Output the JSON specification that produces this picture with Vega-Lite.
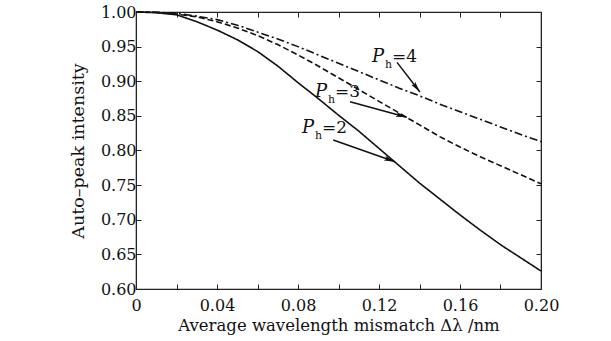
{
  "$schema": "https://vega.github.io/schema/vega-lite/v6.json",
  "width": 405,
  "height": 277,
  "autosize": {"type": "none"},
  "padding": {"left": 136, "top": 12, "right": 70, "bottom": 52},
  "background": "white",
  "config": {
    "view": {"stroke": "#222", "strokeWidth": 1.2},
    "font": "DejaVu Serif",
    "axis": {
      "grid": false,
      "domainColor": "#222",
      "tickColor": "#222",
      "tickSize": -5,
      "labelColor": "#111",
      "titleColor": "#111",
      "titleFontWeight": "normal"
    }
  },
  "datasets": {
    "curves": [
      {"x": 0.00, "y": 1.000, "ph": "2"}, {"x": 0.01, "y": 0.999, "ph": "2"}, {"x": 0.02, "y": 0.996, "ph": "2"},
      {"x": 0.03, "y": 0.986, "ph": "2"}, {"x": 0.04, "y": 0.974, "ph": "2"}, {"x": 0.05, "y": 0.960, "ph": "2"},
      {"x": 0.06, "y": 0.943, "ph": "2"}, {"x": 0.07, "y": 0.922, "ph": "2"}, {"x": 0.08, "y": 0.898, "ph": "2"},
      {"x": 0.09, "y": 0.875, "ph": "2"}, {"x": 0.10, "y": 0.851, "ph": "2"}, {"x": 0.11, "y": 0.828, "ph": "2"},
      {"x": 0.12, "y": 0.803, "ph": "2"}, {"x": 0.13, "y": 0.778, "ph": "2"}, {"x": 0.14, "y": 0.753, "ph": "2"},
      {"x": 0.15, "y": 0.730, "ph": "2"}, {"x": 0.16, "y": 0.707, "ph": "2"}, {"x": 0.17, "y": 0.685, "ph": "2"},
      {"x": 0.18, "y": 0.664, "ph": "2"}, {"x": 0.19, "y": 0.645, "ph": "2"}, {"x": 0.20, "y": 0.626, "ph": "2"},
      {"x": 0.00, "y": 1.000, "ph": "3"}, {"x": 0.01, "y": 0.9995, "ph": "3"}, {"x": 0.02, "y": 0.997, "ph": "3"},
      {"x": 0.03, "y": 0.993, "ph": "3"}, {"x": 0.04, "y": 0.986, "ph": "3"}, {"x": 0.05, "y": 0.977, "ph": "3"},
      {"x": 0.06, "y": 0.966, "ph": "3"}, {"x": 0.07, "y": 0.953, "ph": "3"}, {"x": 0.08, "y": 0.938, "ph": "3"},
      {"x": 0.09, "y": 0.922, "ph": "3"}, {"x": 0.10, "y": 0.905, "ph": "3"}, {"x": 0.11, "y": 0.888, "ph": "3"},
      {"x": 0.12, "y": 0.871, "ph": "3"}, {"x": 0.13, "y": 0.854, "ph": "3"}, {"x": 0.14, "y": 0.837, "ph": "3"},
      {"x": 0.15, "y": 0.820, "ph": "3"}, {"x": 0.16, "y": 0.805, "ph": "3"}, {"x": 0.17, "y": 0.791, "ph": "3"},
      {"x": 0.18, "y": 0.778, "ph": "3"}, {"x": 0.19, "y": 0.765, "ph": "3"}, {"x": 0.20, "y": 0.752, "ph": "3"},
      {"x": 0.00, "y": 1.000, "ph": "4"}, {"x": 0.01, "y": 0.9997, "ph": "4"}, {"x": 0.02, "y": 0.998, "ph": "4"},
      {"x": 0.03, "y": 0.994, "ph": "4"}, {"x": 0.04, "y": 0.989, "ph": "4"}, {"x": 0.05, "y": 0.981, "ph": "4"},
      {"x": 0.06, "y": 0.971, "ph": "4"}, {"x": 0.07, "y": 0.961, "ph": "4"}, {"x": 0.08, "y": 0.950, "ph": "4"},
      {"x": 0.09, "y": 0.938, "ph": "4"}, {"x": 0.10, "y": 0.926, "ph": "4"}, {"x": 0.11, "y": 0.914, "ph": "4"},
      {"x": 0.12, "y": 0.902, "ph": "4"}, {"x": 0.13, "y": 0.890, "ph": "4"}, {"x": 0.14, "y": 0.879, "ph": "4"},
      {"x": 0.15, "y": 0.867, "ph": "4"}, {"x": 0.16, "y": 0.856, "ph": "4"}, {"x": 0.17, "y": 0.845, "ph": "4"},
      {"x": 0.18, "y": 0.834, "ph": "4"}, {"x": 0.19, "y": 0.823, "ph": "4"}, {"x": 0.20, "y": 0.813, "ph": "4"}
    ],
    "labels": [
      {"x": 0.1165, "y": 0.9278, "n": "=4"},
      {"x": 0.0884, "y": 0.8773, "n": "=3"},
      {"x": 0.0820, "y": 0.8253, "n": "=2"}
    ],
    "arrows": [
      {"x": 0.1289, "y": 0.9272, "x2": 0.1402, "y2": 0.8845},
      {"x": 0.1057, "y": 0.8704, "x2": 0.1337, "y2": 0.8479},
      {"x": 0.0974, "y": 0.8151, "x2": 0.1279, "y2": 0.7837}
    ]
  },
  "resolve": {"axis": {"x": "independent", "y": "independent"}},
  "layer": [
    {
      "data": {"name": "curves"},
      "mark": {"type": "line", "color": "#111", "strokeWidth": 1.6},
      "encoding": {
        "x": {
          "field": "x", "type": "quantitative",
          "scale": {"domain": [0, 0.2], "nice": false, "zero": false},
          "axis": {
            "orient": "bottom",
            "values": [0, 0.02, 0.04, 0.06, 0.08, 0.1, 0.12, 0.14, 0.16, 0.18, 0.2],
            "labelExpr": "round(datum.value*100) % 4 == 0 ? (datum.value == 0 ? '0' : format(datum.value, '.2f')) : ''",
            "labelFont": "DejaVu Serif",
            "titleFont": "DejaVu Serif",
            "labelFontSize": 16,
            "titleFontSize": 16.5,
            "labelPadding": 13,
            "labelFlush": false,
            "labelOverlap": false,
            "title": "Average wavelength mismatch Δλ /nm",
            "titlePadding": 4
          }
        },
        "y": {
          "field": "y", "type": "quantitative",
          "scale": {"domain": [0.6, 1.0], "nice": false, "zero": false},
          "axis": {
            "orient": "left",
            "values": [0.6, 0.65, 0.7, 0.75, 0.8, 0.85, 0.9, 0.95, 1.0],
            "format": ".2f",
            "labelFont": "DejaVu Serif",
            "titleFont": "DejaVu Serif",
            "labelFontSize": 16,
            "titleFontSize": 17.5,
            "labelPadding": 5,
            "labelFlush": false,
            "labelOverlap": false,
            "title": "Auto–peak intensity",
            "titlePadding": 13
          }
        },
        "strokeDash": {
          "field": "ph", "type": "nominal",
          "scale": {"domain": ["2", "3", "4"], "range": [[1, 0], [6, 3], [8, 3, 2, 3]]},
          "legend": null
        }
      }
    },
    {
      "data": {"name": "curves"},
      "mark": {"type": "point", "opacity": 0},
      "encoding": {
        "x": {
          "field": "x", "type": "quantitative",
          "axis": {
            "orient": "top", "labels": false, "title": null,
            "values": [0, 0.02, 0.04, 0.06, 0.08, 0.1, 0.12, 0.14, 0.16, 0.18, 0.2]
          }
        },
        "y": {
          "field": "y", "type": "quantitative",
          "axis": {
            "orient": "right", "labels": false, "title": null,
            "values": [0.6, 0.65, 0.7, 0.75, 0.8, 0.85, 0.9, 0.95, 1.0]
          }
        }
      }
    },
    {
      "data": {"name": "arrows"},
      "mark": {"type": "rule", "color": "#111", "strokeWidth": 1.5},
      "encoding": {
        "x": {"field": "x", "type": "quantitative", "axis": null},
        "y": {"field": "y", "type": "quantitative", "axis": null},
        "x2": {"field": "x2"},
        "y2": {"field": "y2"}
      }
    },
    {
      "data": {"name": "arrows"},
      "transform": [
        {"calculate": "atan2((datum.x2 - datum.x) * 2025, (datum.y2 - datum.y) * 692.5) * 180 / PI", "as": "ang"}
      ],
      "mark": {
        "type": "point", "filled": true, "color": "#111", "opacity": 1,
        "shape": "M0,0L0.45,2L0,1.6L-0.45,2Z", "size": 121
      },
      "encoding": {
        "x": {"field": "x2", "type": "quantitative", "axis": null},
        "y": {"field": "y2", "type": "quantitative", "axis": null},
        "angle": {"field": "ang", "type": "quantitative", "scale": null}
      }
    },
    {
      "data": {"name": "labels"},
      "mark": {"type": "text", "text": "P", "font": "DejaVu Serif", "fontStyle": "italic", "fontSize": 18, "align": "left", "baseline": "alphabetic", "color": "#111"},
      "encoding": {
        "x": {"field": "x", "type": "quantitative", "axis": null},
        "y": {"field": "y", "type": "quantitative", "axis": null}
      }
    },
    {
      "data": {"name": "labels"},
      "mark": {"type": "text", "text": "h", "font": "DejaVu Serif", "fontSize": 11, "align": "left", "baseline": "alphabetic", "dx": 13, "dy": 6, "color": "#111"},
      "encoding": {
        "x": {"field": "x", "type": "quantitative", "axis": null},
        "y": {"field": "y", "type": "quantitative", "axis": null}
      }
    },
    {
      "data": {"name": "labels"},
      "mark": {"type": "text", "font": "DejaVu Serif", "fontSize": 17, "align": "left", "baseline": "alphabetic", "dx": 20, "color": "#111"},
      "encoding": {
        "x": {"field": "x", "type": "quantitative", "axis": null},
        "y": {"field": "y", "type": "quantitative", "axis": null},
        "text": {"field": "n"}
      }
    }
  ]
}
